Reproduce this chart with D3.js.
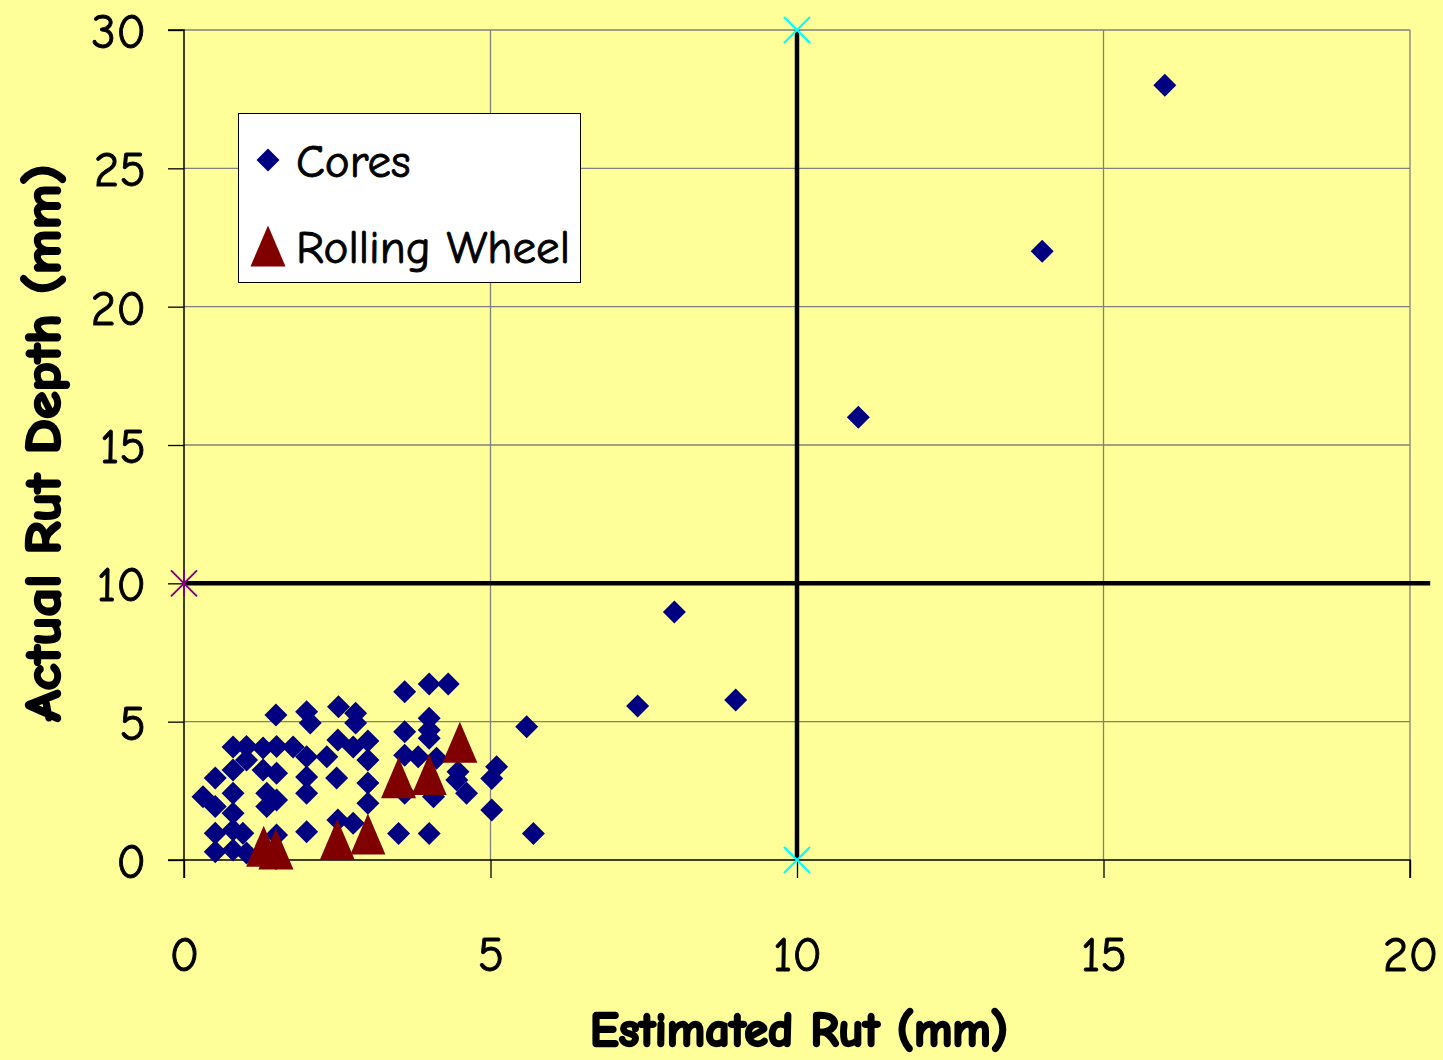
<!DOCTYPE html>
<html><head><meta charset="utf-8">
<script src="https://cdn.jsdelivr.net/npm/d3@7"></script>
<style>
html,body{margin:0;padding:0;background:#FFFF99;}
svg{display:block;}
text{font-family:"Comic Sans MS","Comic Neue","DejaVu Sans",sans-serif;fill:#000;}
</style></head>
<body>
<script>
const coresX = [1.5,2.0,2.06,2.52,2.8,2.8,0.8,1.02,1.29,1.51,1.78,2.0,2.51,2.33,2.76,3.0,0.51,0.8,1.02,1.29,1.51,2.0,2.49,3.0,3.0,0.31,0.51,0.8,1.35,1.51,2.0,3.0,0.8,1.35,0.51,0.8,2.0,2.51,2.76,0.51,0.8,1.51,1.5,0.96,1.02,
  3.6,4.0,4.31,4.0,3.6,4.0,4.0,3.6,3.82,4.12,4.47,5.1,5.02,4.45,4.61,4.07,3.6,5.02,3.5,4.0,5.59,5.7,
  7.4,8.0,9.0,11.0,14.0,16.0];
const coresY = [5.24,5.36,4.95,5.54,5.3,4.95,4.08,4.1,4.05,4.1,4.08,3.73,4.34,3.73,4.08,4.3,2.96,3.25,3.61,3.25,3.14,3.0,2.96,3.61,2.78,2.29,1.93,2.41,2.41,2.17,2.41,2.05,1.69,1.93,0.97,1.08,1.02,1.45,1.33,0.3,0.36,0.9,0.05,0.97,0.25,
  6.08,6.36,6.36,5.12,4.64,4.7,4.4,3.79,3.73,3.68,3.19,3.37,2.95,2.89,2.41,2.29,2.41,1.81,0.96,0.96,4.82,0.96,
  5.57,8.96,5.78,16.0,22.0,28.0];
const wheelX = [1.3,1.5,2.5,3.0,3.5,4.0,4.5];
const wheelY = [0.5,0.4,0.74,0.94,2.97,3.09,4.26];
const xTicks = [0,5,10,15,20];
const yTicks = [0,5,10,15,20,25,30];
const refH = {x:[0,20.33], y:[10,10]};
const refV = {x:[10,10], y:[0,30]};
const starPt = [[0,10]];
const xPts = [[10,0],[10,30]];
const seriesNames = ["Cores","Rolling Wheel"];

const W = 1443, H = 1060;
const FONT = '"Comic Sans MS","Comic Neue","DejaVu Sans",sans-serif';
const svg = d3.select("body").append("svg").attr("width",W).attr("height",H);
svg.append("rect").attr("width",W).attr("height",H).attr("fill","#FFFF99");

const x = d3.scaleLinear().domain([0,20]).range([184,1410]);
const y = d3.scaleLinear().domain([0,30]).range([860,30]);

// gridlines
const g = svg.append("g");
g.selectAll(".gy").data(yTicks.filter(d=>d>0)).join("line")
  .attr("x1",x(0)).attr("x2",x(20)).attr("y1",d=>y(d)).attr("y2",d=>y(d))
  .attr("stroke","#808080").attr("stroke-width",1.3);
g.selectAll(".gx").data(xTicks.filter(d=>d>0)).join("line")
  .attr("x1",d=>x(d)).attr("x2",d=>x(d)).attr("y1",y(0)).attr("y2",y(30))
  .attr("stroke","#808080").attr("stroke-width",1.3);

// axes
const xAxis = d3.axisBottom(x).tickValues(xTicks).tickSize(18).tickPadding(68).tickFormat(d3.format("d"));
const yAxis = d3.axisLeft(y).tickValues(yTicks).tickSize(16).tickPadding(22).tickFormat(d3.format("d"));
const gx = svg.append("g").attr("transform",`translate(0,${y(0)})`).call(xAxis);
const gy = svg.append("g").attr("transform",`translate(${x(0)},0)`).call(yAxis);
[gx,gy].forEach(a=>{
  a.select(".domain").attr("stroke","#000").attr("stroke-width",1.5);
  a.selectAll(".tick line").attr("stroke","#000").attr("stroke-width",1.3);
  a.selectAll(".tick text").attr("font-size",49).attr("fill","#000")
    .attr("stroke","#000").attr("stroke-width",0.9)
    .style("font-family",FONT);
});
gy.select(".domain").attr("d",`M-16,${y(30)}H0V${y(0)}H-16`);
gx.select(".domain").attr("d",`M${x(0)},18V0H${x(20)}V18`);
gy.selectAll(".tick text").attr("dy","0.36em");
gx.selectAll(".tick text").attr("dy","0.5em");

// thick reference lines
const line = d3.line().x(d=>x(d[0])).y(d=>y(d[1]));
svg.append("path").datum(d3.zip(refH.x,refH.y)).attr("d",line).attr("stroke","#000").attr("stroke-width",4.5).attr("fill","none");
svg.append("path").datum(d3.zip(refV.x,refV.y)).attr("d",line).attr("stroke","#000").attr("stroke-width",4.5).attr("fill","none");

// markers
const diamond = "M0,-11.5L11.5,0L0,11.5L-11.5,0Z";
const tri = "M0,-20.5L17.5,20.5L-17.5,20.5Z";
svg.append("g").selectAll("path").data(d3.zip(coresX,coresY)).join("path")
  .attr("d",diamond).attr("transform",d=>`translate(${x(d[0])},${y(d[1])})`)
  .attr("fill","#000080");
svg.append("g").selectAll("path").data(d3.zip(wheelX,wheelY)).join("path")
  .attr("d",tri).attr("transform",d=>`translate(${x(d[0])},${y(d[1])})`)
  .attr("fill","#800000");

// star marker
svg.append("g").selectAll("path").data(starPt).join("path")
  .attr("d","M-13,-13L13,13M13,-13L-13,13M0,-13V13")
  .attr("transform",d=>`translate(${x(d[0])},${y(d[1])})`)
  .attr("stroke","#800080").attr("stroke-width",2).attr("fill","none");
svg.append("g").selectAll("path").data(xPts).join("path")
  .attr("d","M-13,-13L13,13M13,-13L-13,13")
  .attr("transform",d=>`translate(${x(d[0])},${y(d[1])})`)
  .attr("stroke","#00FFFF").attr("stroke-width",2.2).attr("fill","none");

// legend
const lg = svg.append("g");
lg.append("rect").attr("x",238.5).attr("y",113.5).attr("width",342).attr("height",169)
  .attr("fill","#fff").attr("stroke","#000").attr("stroke-width",1);
lg.append("path").attr("d",diamond).attr("transform","translate(268,160)").attr("fill","#000080");
lg.append("path").attr("d",tri).attr("transform","translate(268,246)").attr("fill","#800000");
lg.append("text").attr("x",296).attr("y",177).attr("font-size",47).attr("stroke","#000").attr("stroke-width",0.9).text(seriesNames[0]);
lg.append("text").attr("x",296).attr("y",263).attr("font-size",47).attr("stroke","#000").attr("stroke-width",0.9)
  .attr("textLength",274).attr("lengthAdjust","spacingAndGlyphs").text(seriesNames[1]);

// axis titles
svg.append("text").attr("x",799).attr("y",1046).attr("text-anchor","middle")
  .attr("font-size",48).attr("font-weight","bold").attr("stroke","#000").attr("stroke-width",2.4)
  .attr("textLength",418).attr("lengthAdjust","spacingAndGlyphs").text("Estimated Rut (mm)");
svg.append("text").attr("transform","translate(60,443) rotate(-90)").attr("text-anchor","middle")
  .attr("font-size",50).attr("font-weight","bold").attr("stroke","#000").attr("stroke-width",2.4)
  .attr("textLength",557).attr("lengthAdjust","spacingAndGlyphs").text("Actual Rut Depth (mm)");
</script>
</body></html>
